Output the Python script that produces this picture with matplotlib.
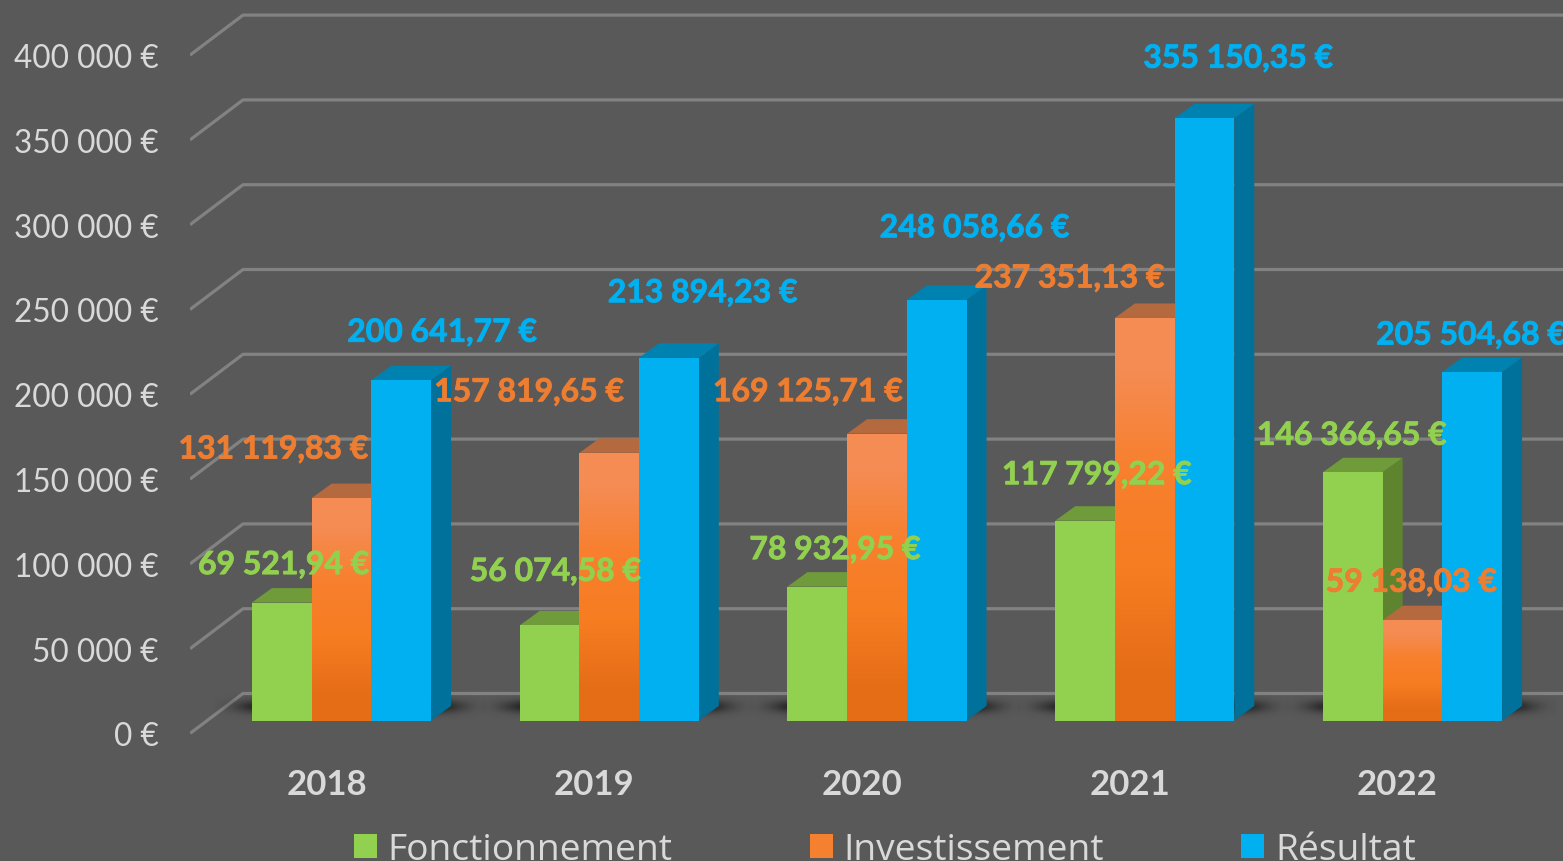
import numpy as np
import matplotlib.pyplot as plt
import matplotlib.patheffects as pe
from matplotlib.patches import Patch

plt.rcParams['font.family'] = ['Lato', 'DejaVu Sans']

years = ['2018', '2019', '2020', '2021', '2022']
fonctionnement = [69521.94, 56074.58, 78932.95, 117799.22, 146366.65]
investissement = [131119.83, 157819.65, 169125.71, 237351.13, 59138.03]
resultat = [200641.77, 213894.23, 248058.66, 355150.35, 205504.68]
y_ticks = [0, 50000, 100000, 150000, 200000, 250000, 300000, 350000, 400000]

# label centres relative to the top of each bar, in pixels (right, up)
green_dx = [2, 6, 18, 12, -1]
green_dy = [38, 54, 37, 46, 37]
orange_dx = [-68, -80, -69, -75, -1]
orange_dy = [49, 61, 42, 40, 38]
blue_dx = [41, 34, 38, 34, -1]
blue_dy = [48, 65, 72, 60, 37]

BG = '#595959'
W, H = 1563, 862
ZERO_PX = 734.5       # pixel row of the "0 €" level at the front edge
PX_X = 1 / 267.75     # one pixel in category units
PX_Y = 50000 / 84.8   # one pixel in euros
BAR_W = 59.7 * PX_X
BASE = 13 * PX_Y      # bars stand a bit above the front edge of the floor
DEPTH_X, DEPTH_Y = 20 * PX_X, 14.5 * PX_Y


def euro(v):
    return f'{v:,.2f} €'.replace(',', ' ').replace('.', ',')


def axis_label(v):
    return f'{v:,d} €'.replace(',', ' ')


fig = plt.figure(figsize=(W / 100, H / 100), dpi=100, facecolor=BG)
# axes run from the "0 €" level at the front edge up to the top of the image
ax = fig.add_axes([190 / W, (H - ZERO_PX) / H, (W - 190) / W, ZERO_PX / H], facecolor=BG)

# back wall grid with the diagonal going to the front
x_left = (190 - 341.5) * PX_X
x_right = (W - 341.5) * PX_X
for g in y_ticks:
    ax.plot([x_left, x_left + 53 * PX_X, x_right],
            [g, g + 40 * PX_Y, g + 40 * PX_Y],
            color='#828282', lw=2.3, zorder=1, solid_capstyle='butt')

# soft floor shadow under each group
gx, gy = np.meshgrid(np.linspace(-1, 1, 300), np.linspace(-1, 1, 60))
shade = np.zeros((60, 300, 4))
shade[..., 3] = 0.9 * np.exp(-(np.abs(gx) / 0.8) ** 6 - (gy / 0.4) ** 2)
for i in range(len(years)):
    ax.imshow(shade, extent=[i - 128 * PX_X, i + 144 * PX_X, BASE - 2 * PX_Y, BASE + 30 * PX_Y],
              aspect='auto', zorder=2, interpolation='bilinear')

series = [
    (fonctionnement, -1, '#92D050', '#6F9B3A', '#5F8430', green_dx, green_dy),
    (investissement, 0, '#F58030', '#B5693F', '#A55A20', orange_dx, orange_dy),
    (resultat, 1, '#00B0F0', '#0082B0', '#00719A', blue_dx, blue_dy),
]
label_colors = ['#92D050', '#ED7D31', '#00B0F0']

orange_grad = np.array([[0.96, 0.55, 0.33], [0.97, 0.50, 0.18],
                        [0.97, 0.49, 0.13], [0.90, 0.43, 0.09]]).reshape(4, 1, 3)

for s, (values, pos, front, top, side, dx, dy) in enumerate(series):
    z = 3 + s
    for i, v in enumerate(values):
        x0 = i + pos * BAR_W - BAR_W / 2
        x1 = x0 + BAR_W
        y1 = v + BASE
        ax.fill([x1, x1 + DEPTH_X, x1 + DEPTH_X, x1],
                [BASE, BASE + DEPTH_Y, y1 + DEPTH_Y, y1], color=side, lw=0, zorder=z)
        ax.fill([x0, x0 + DEPTH_X, x1 + DEPTH_X, x1],
                [y1, y1 + DEPTH_Y, y1 + DEPTH_Y, y1], color=top, lw=0, zorder=z)
        bar = ax.bar(x0, v, BAR_W, bottom=BASE, align='edge', color=front, lw=0, zorder=z)[0]
        if s == 1:
            img = ax.imshow(orange_grad, extent=[x0, x1, BASE, y1], aspect='auto',
                            zorder=z, interpolation='bilinear')
            img.set_clip_path(bar)

for s, (values, pos, front, top, side, dx, dy) in enumerate(series):
    for i, v in enumerate(values):
        x = i + pos * BAR_W + dx[i] * PX_X
        y = v + BASE + dy[i] * PX_Y
        t = ax.text(x, y, euro(v), color=label_colors[s], fontsize=23, fontweight='bold',
                    ha='center', va='center', zorder=10)
        t.set_path_effects([pe.withStroke(linewidth=0.6, foreground=label_colors[s])])

ax.set_xlim(x_left, x_right)
ax.set_ylim(0, ZERO_PX * PX_Y)
ax.set_yticks(y_ticks, [axis_label(t) for t in y_ticks])
ax.set_xticks(np.arange(len(years)) - 15 * PX_X, years)
ax.tick_params(axis='y', length=0, pad=22.5, labelsize=22.7, labelcolor='#D9D9D9')
ax.tick_params(axis='x', length=0, pad=25, labelsize=25, labelcolor='#D9D9D9')
for lab in ax.get_xticklabels():
    lab.set_fontweight('bold')
for sp in ax.spines.values():
    sp.set_visible(False)

handles = [Patch(color='#92D050', lw=0), Patch(color='#F58030', lw=0), Patch(color='#00B0F0', lw=0)]
leg = fig.legend(handles, ['Fonctionnement', 'Investissement', 'Résultat'],
                 ncol=3, loc='lower left', bbox_to_anchor=(354 / W, -7 / H),
                 frameon=False, labelcolor='#D9D9D9',
                 prop={'family': 'Open Sans', 'size': 26.7},
                 handlelength=0.62, handleheight=0.62, handletextpad=0.29,
                 columnspacing=3.7, borderpad=0, borderaxespad=0)

fig.savefig('out.png', dpi=100, facecolor=BG)
